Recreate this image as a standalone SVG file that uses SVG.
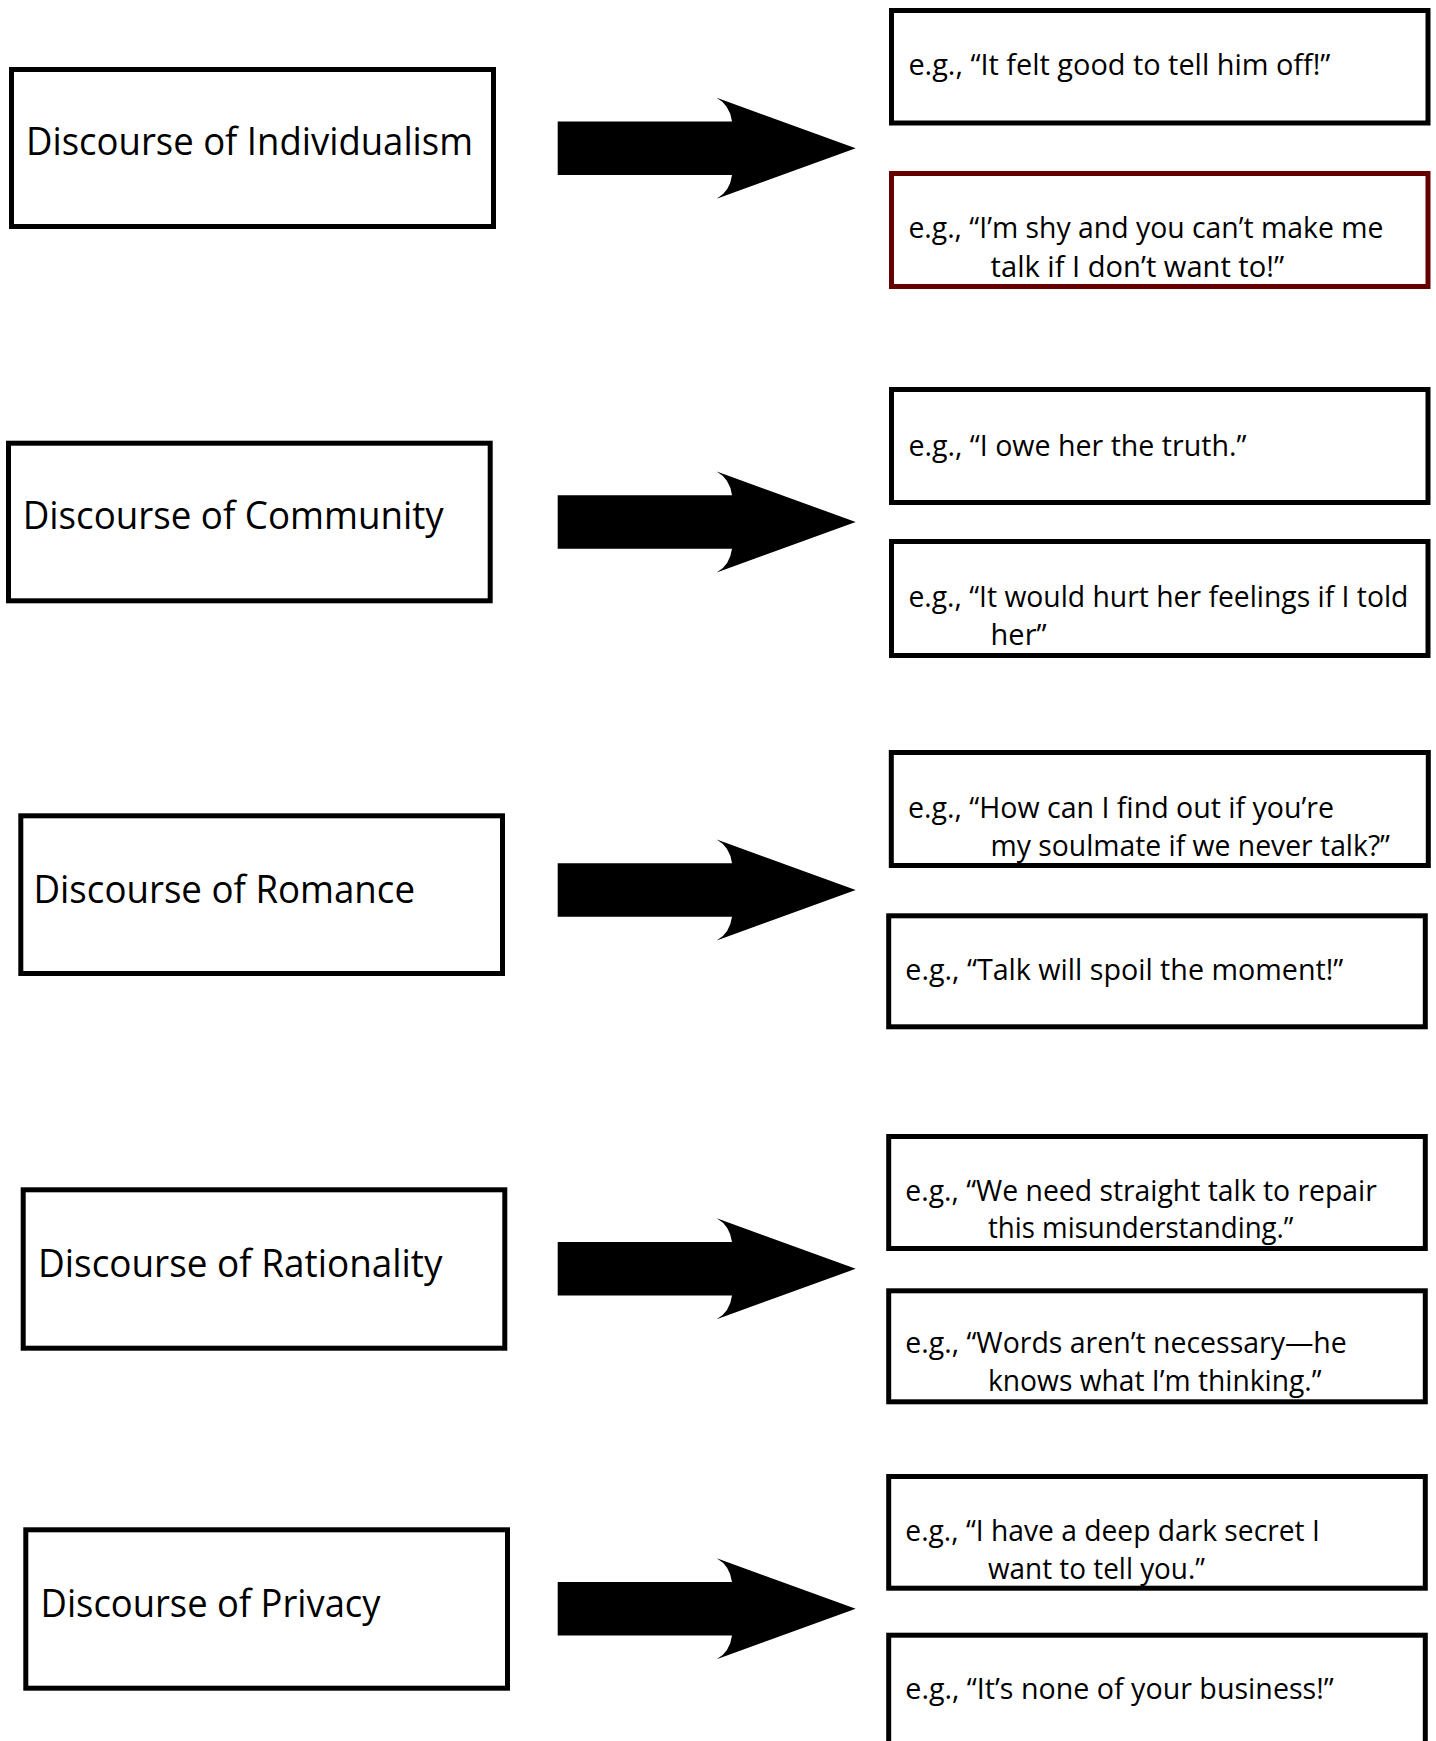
<svg xmlns="http://www.w3.org/2000/svg" xmlns:xlink="http://www.w3.org/1999/xlink" width="1436" height="1741" viewBox="0 0 1436 1741">
<style>
.box{fill:#ffffff;stroke:#000000;stroke-width:5}
.box-red{fill:#ffffff;stroke:#660000;stroke-width:5}
.lbl{font-family:"Open Sans","Noto Sans",sans-serif;font-size:38px;fill:#000000}
.ex{font-family:"Open Sans","Noto Sans",sans-serif;font-size:29px;fill:#000000}
.arrow{fill:#000000}
</style>
<defs>
<path id="blockArrow" class="arrow" d="M557.7,-26.7 L732,-26.7 Q730,-43 716.7,-50.5 L855.7,0 L716.7,50.5 Q730,43 732,26.7 L557.7,26.7 Z"/>
</defs>
<rect x="0" y="0" width="1436" height="1741" fill="#ffffff"/>

<g id="connectors">
<use xlink:href="#blockArrow" href="#blockArrow" y="148.3"/>
<use xlink:href="#blockArrow" href="#blockArrow" y="522"/>
<use xlink:href="#blockArrow" href="#blockArrow" y="890"/>
<use xlink:href="#blockArrow" href="#blockArrow" y="1268.8"/>
<use xlink:href="#blockArrow" href="#blockArrow" y="1608.7"/>
</g>

<g id="node-individualism">
<rect class="box" x="11.5" y="69.5" width="482" height="157"/>
<text class="lbl" x="26" y="155" textLength="447" lengthAdjust="spacingAndGlyphs">Discourse of Individualism</text>
</g>
<g id="node-community">
<rect class="box" x="8.5" y="443.2" width="481.7" height="157.6"/>
<text class="lbl" x="22.7" y="529.3" textLength="421" lengthAdjust="spacingAndGlyphs">Discourse of Community</text>
</g>
<g id="node-romance">
<rect class="box" x="20.8" y="815.8" width="481.7" height="157.7"/>
<text class="lbl" x="33.5" y="903" textLength="381.5" lengthAdjust="spacingAndGlyphs">Discourse of Romance</text>
</g>
<g id="node-rationality">
<rect class="box" x="23.2" y="1189.8" width="481.6" height="158.4"/>
<text class="lbl" x="38" y="1276.5" textLength="404.5" lengthAdjust="spacingAndGlyphs">Discourse of Rationality</text>
</g>
<g id="node-privacy">
<rect class="box" x="25.8" y="1529.8" width="481.7" height="158.4"/>
<text class="lbl" x="40.5" y="1616.5" textLength="340" lengthAdjust="spacingAndGlyphs">Discourse of Privacy</text>
</g>

<g id="ex-individualism-1">
<rect class="box" x="891.5" y="10.5" width="536.5" height="112.5"/>
<text class="ex" x="908.4" y="75" textLength="422" lengthAdjust="spacingAndGlyphs">e.g., “It felt good to tell him off!”</text>
</g>
<g id="ex-individualism-2">
<rect class="box-red" x="891.5" y="173.5" width="536.5" height="113"/>
<text class="ex" x="908.4" y="237.5" textLength="475" lengthAdjust="spacingAndGlyphs">e.g., “I’m shy and you can’t make me</text>
<text class="ex" x="990.6" y="276.6" textLength="293.5" lengthAdjust="spacingAndGlyphs">talk if I don’t want to!”</text>
</g>
<g id="ex-community-1">
<rect class="box" x="891.5" y="389.5" width="536.5" height="113"/>
<text class="ex" x="908.4" y="456" textLength="338" lengthAdjust="spacingAndGlyphs">e.g., “I owe her the truth.”</text>
</g>
<g id="ex-community-2">
<rect class="box" x="891.5" y="541.5" width="536.5" height="114"/>
<text class="ex" x="908.4" y="606.5" textLength="500" lengthAdjust="spacingAndGlyphs">e.g., “It would hurt her feelings if I told</text>
<text class="ex" x="990.6" y="645" textLength="56" lengthAdjust="spacingAndGlyphs">her”</text>
</g>
<g id="ex-romance-1">
<rect class="box" x="891.3" y="752.5" width="537" height="113"/>
<text class="ex" x="908" y="818" textLength="426" lengthAdjust="spacingAndGlyphs">e.g., “How can I find out if you’re</text>
<text class="ex" x="990.5" y="855.8" textLength="399.5" lengthAdjust="spacingAndGlyphs">my soulmate if we never talk?”</text>
</g>
<g id="ex-romance-2">
<rect class="box" x="888.7" y="915.8" width="536.6" height="111"/>
<text class="ex" x="905.3" y="980" textLength="438" lengthAdjust="spacingAndGlyphs">e.g., “Talk will spoil the moment!”</text>
</g>
<g id="ex-rationality-1">
<rect class="box" x="888.7" y="1136.5" width="536.6" height="112"/>
<text class="ex" x="905.3" y="1201.2" textLength="471.5" lengthAdjust="spacingAndGlyphs">e.g., “We need straight talk to repair</text>
<text class="ex" x="988" y="1238.3" textLength="305.5" lengthAdjust="spacingAndGlyphs">this misunderstanding.”</text>
</g>
<g id="ex-rationality-2">
<rect class="box" x="888.7" y="1290.8" width="536.6" height="111"/>
<text class="ex" x="905.3" y="1352.5" textLength="441.5" lengthAdjust="spacingAndGlyphs">e.g., “Words aren’t necessary—he</text>
<text class="ex" x="988" y="1390.5" textLength="333.5" lengthAdjust="spacingAndGlyphs">knows what I’m thinking.”</text>
</g>
<g id="ex-privacy-1">
<rect class="box" x="888.7" y="1476.5" width="536.6" height="111.7"/>
<text class="ex" x="905.3" y="1541" textLength="414.5" lengthAdjust="spacingAndGlyphs">e.g., “I have a deep dark secret I</text>
<text class="ex" x="988" y="1579" textLength="217" lengthAdjust="spacingAndGlyphs">want to tell you.”</text>
</g>
<g id="ex-privacy-2">
<rect class="box" x="888.7" y="1635.2" width="536.6" height="130"/>
<text class="ex" x="905.3" y="1699" textLength="428.5" lengthAdjust="spacingAndGlyphs">e.g., “It’s none of your business!”</text>
</g>
</svg>
